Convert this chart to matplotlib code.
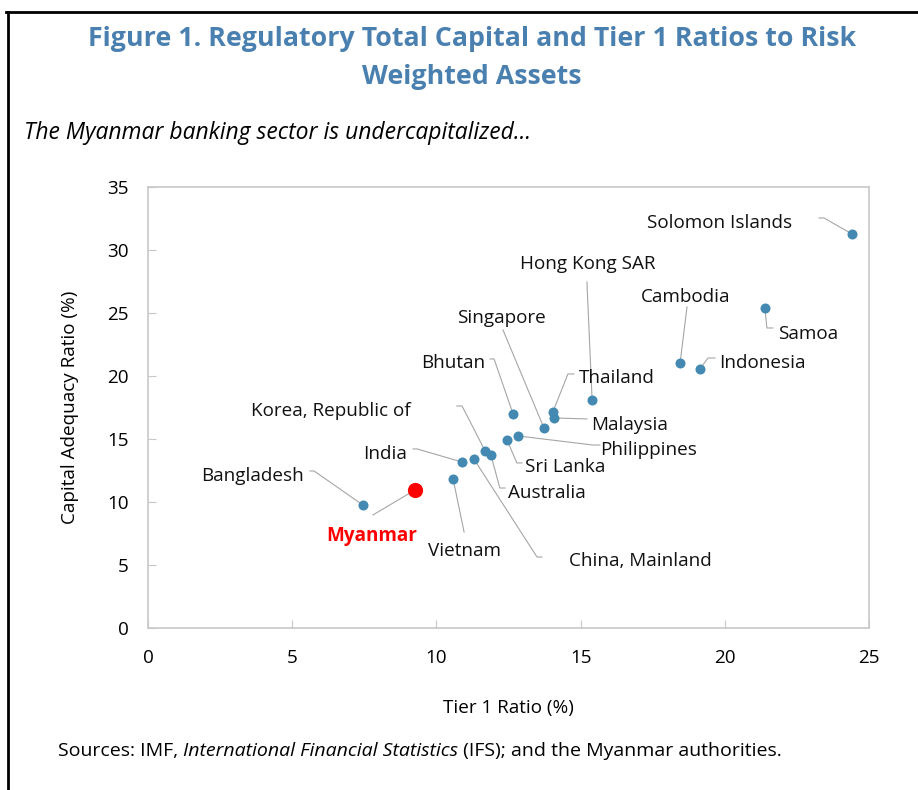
import matplotlib
matplotlib.use("Agg")
import matplotlib.pyplot as plt
from matplotlib.lines import Line2D

# data
countries = ["Solomon Islands", "Samoa", "Cambodia", "Indonesia", "Hong Kong SAR",
             "Thailand", "Malaysia", "Bhutan", "Singapore", "Philippines",
             "Sri Lanka", "Korea, Republic of", "Australia", "China, Mainland",
             "India", "Vietnam", "Bangladesh"]
tier1 = [24.41, 21.39, 18.45, 19.14, 15.40, 14.04, 14.08, 12.66, 13.73, 12.83,
         12.45, 11.69, 11.89, 11.30, 10.89, 10.58, 7.45]
car = [31.27, 25.40, 21.03, 20.56, 18.10, 17.14, 16.67, 16.98, 15.87, 15.24,
       14.92, 14.05, 13.73, 13.41, 13.17, 11.83, 9.76]

mm_name = "Myanmar"
mm_tier1 = 9.26
mm_car = 10.95

# label placement (data coords): text centre, leader start, leader elbow
label_xy = [(19.83, 32.30), (22.88, 23.49), (18.65, 26.43), (21.32, 21.19), (15.26, 29.05),
            (16.26, 20.00), (16.71, 16.27), (10.58, 21.19), (12.27, 24.76), (17.34, 14.29),
            (14.46, 12.94), (6.35, 17.38), (13.83, 10.87), (17.09, 5.48),
            (8.22, 13.97), (10.99, 6.27), (3.64, 12.22)]
lead_start = [(23.27, 32.54), (21.67, 23.81), (18.69, 25.48), (19.66, 21.43), (15.22, 27.46),
              (14.77, 20.16), (15.22, 16.59), (11.86, 21.35), (12.31, 23.65), (15.67, 14.52),
              (12.97, 13.10), (10.71, 17.62), (12.38, 11.11), (13.66, 5.63),
              (9.19, 14.21), (10.96, 7.62), (5.62, 12.46)]
lead_elbow = [(23.44, 32.54), (21.46, 23.81), (18.69, 25.48), (19.42, 21.43), (15.22, 27.46),
              (14.56, 20.16), (15.22, 16.59), (12.00, 21.35), (12.31, 23.65), (15.43, 14.52),
              (12.79, 13.10), (10.89, 17.62), (12.20, 11.11), (13.49, 5.63),
              (9.33, 14.21), (10.96, 7.62), (5.76, 12.46)]
mm_label_xy = (7.77, 7.46)
mm_lead_start = (7.80, 8.97)

xticks = [0, 5, 10, 15, 20, 25]
yticks = [0, 5, 10, 15, 20, 25, 30, 35]

font = "Open Sans"
blue = "#4389B1"
gray_line = "#A6A6A6"
axis_gray = "#C8C8C8"
fs = 13.6

fig = plt.figure(figsize=(9.18, 7.90), dpi=100)
ax = fig.add_axes([0.1612, 0.2051, 0.7854, 0.5582])

for i in range(len(countries)):
    sx, sy = lead_start[i]
    ex, ey = lead_elbow[i]
    ax.plot([sx, ex, tier1[i]], [sy, ey, car[i]], color=gray_line, lw=0.8, zorder=1)
    ax.text(label_xy[i][0], label_xy[i][1], countries[i], ha="center", va="center_baseline",
            fontsize=fs, family=font, color="#111111")

ax.plot([mm_lead_start[0], mm_tier1], [mm_lead_start[1], mm_car], color=gray_line, lw=0.8, zorder=1)
ax.text(mm_label_xy[0], mm_label_xy[1], mm_name, ha="center", va="center_baseline",
        fontsize=fs, family=font, color="#FF0000", fontweight="bold")

ax.scatter(tier1, car, s=52, color=blue, zorder=3, linewidths=0)
ax.scatter([mm_tier1], [mm_car], s=120, color="#FF0000", zorder=3, linewidths=0)

ax.set_xlim(0, 25)
ax.set_ylim(0, 35)
ax.set_xticks(xticks)
ax.set_yticks(yticks)
ax.tick_params(direction="in", length=6, color=axis_gray, labelsize=fs, pad=14)
ax.tick_params(axis="x", pad=15)
for lab in ax.get_xticklabels() + ax.get_yticklabels():
    lab.set_family(font)
for s in ax.spines.values():
    s.set_color(axis_gray)
    s.set_linewidth(1.2)

ax.set_xlabel("Tier 1 Ratio (%)", fontsize=fs, family=font, labelpad=23)
ax.set_ylabel("Capital Adequacy Ratio (%)", fontsize=fs, family=font, labelpad=20)

# titles
fig.text(0.514, 0.951, "Figure 1. Regulatory Total Capital and Tier 1 Ratios to Risk",
         ha="center", va="center", fontsize=19.3, fontweight="bold", color="#4A80B0", family=font)
fig.text(0.514, 0.903, "Weighted Assets", ha="center", va="center",
         fontsize=19.3, fontweight="bold", color="#4A80B0", family=font)
fig.text(0.026, 0.832, "The Myanmar banking sector is undercapitalized...", ha="left", va="center",
         fontsize=16.5, style="italic", family=font)

# source line with italic middle part
sy_fig = 0.043
t1 = fig.text(0.063, sy_fig, "Sources: IMF, ", ha="left", va="baseline", fontsize=14, family=font)
t2 = fig.text(0, 0, "International Financial Statistics", fontsize=14, family=font, style="italic")
t3 = fig.text(0, 0, " (IFS); and the Myanmar authorities.", fontsize=14, family=font)
fig.canvas.draw()
r = fig.canvas.get_renderer()
inv = fig.transFigure.inverted()
b1 = t1.get_window_extent(r)
t2.set_position((inv.transform((b1.x1, 0))[0], sy_fig))
t2.set_va("baseline")
b2 = t2.get_window_extent(r)
t3.set_position((inv.transform((b2.x1, 0))[0], sy_fig))
t3.set_va("baseline")

# outer frame (top and left)
fig.add_artist(Line2D([0.006, 1.0], [0.985, 0.985], color="black", lw=2, transform=fig.transFigure))
fig.add_artist(Line2D([0.009, 0.009], [0.0, 0.985], color="black", lw=2, transform=fig.transFigure))

fig.savefig("out.png", dpi=100)
